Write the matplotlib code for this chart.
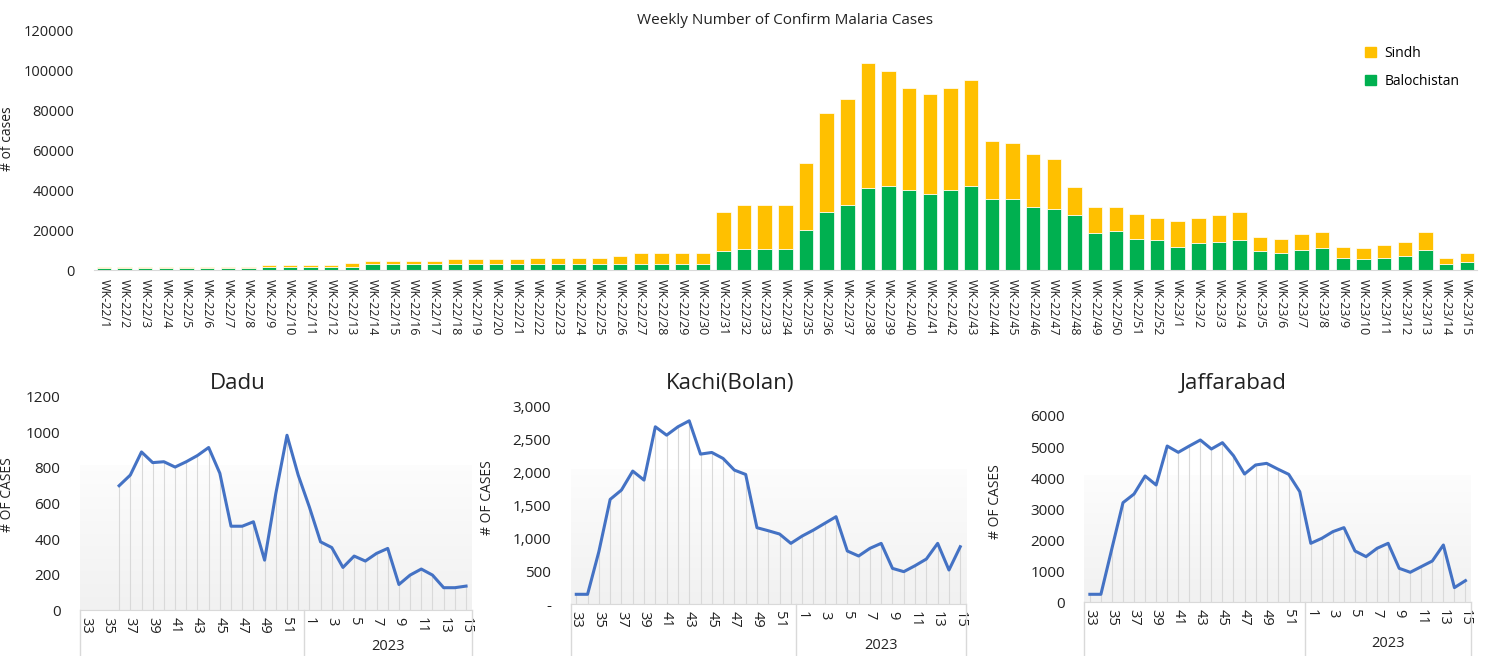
import numpy as np
import matplotlib
matplotlib.use("Agg")
import matplotlib.pyplot as plt
from matplotlib.ticker import FuncFormatter
from matplotlib.patches import Patch

plt.rcParams['font.family'] = ['Open Sans', 'DejaVu Sans']

# weekly confirmed cases, WK-22/1 .. WK-23/15
weeks = ['WK-22/%d' % w for w in range(1, 53)] + ['WK-23/%d' % w for w in range(1, 16)]
balochistan = [1000, 1000, 1000, 1000, 1000, 1000, 1000, 1000,
               1700, 1700, 1700, 1700, 1800, 3300, 3300, 3300, 3300,
               3200, 3200, 3200, 3200, 3200, 3200, 3200, 3200, 3200, 3200, 3200, 3200, 3200,
               9600, 10500, 10500, 10500, 20000, 29300, 32500, 41200, 42000, 40300,
               38000, 40300, 42000, 35700, 35500, 31700, 30800, 27700, 18800, 19800,
               15800, 15000, 11800, 13500, 14300, 15000, 9500, 8700, 10300, 11200,
               6300, 5500, 6300, 7200, 10300, 3200, 4000]
sindh = [800, 800, 800, 800, 800, 800, 800, 800,
         800, 800, 800, 800, 1700, 1400, 1400, 1400, 1400,
         2300, 2300, 2300, 2300, 3100, 3100, 3100, 3100, 4000, 5600, 5600, 5600, 5600,
         19700, 22000, 22000, 22000, 33700, 49700, 53500, 62800, 58000, 51200,
         50300, 51200, 53500, 29100, 28300, 26800, 25200, 14100, 12700, 11700,
         12500, 11000, 12700, 12500, 13400, 14200, 7200, 7100, 7900, 7800,
         5500, 5500, 6400, 7000, 8700, 3100, 4700]

# district series, epi week 33 (2022) .. 15 (2023)
district_weeks = list(range(33, 53)) + list(range(1, 16))
dadu = [np.nan, np.nan, np.nan, 700, 760, 890, 830, 835, 805, 835, 870, 915, 770,
        472, 472, 497, 281, 656, 984, 760, 580, 384, 352, 240, 304, 276, 319, 347,
        144, 197, 231, 197, 126, 126, 135]
kachi = [152, 152, 800, 1594, 1736, 2024, 1887, 2697, 2570, 2697, 2788, 2282, 2307,
         2216, 2039, 1973, 1164, 1118, 1068, 926, 1037, 1128, 1230, 1331, 810, 734,
         850, 926, 546, 496, 587, 688, 926, 521, 875]
jaffarabad = [257, 257, 1738, 3208, 3487, 4067, 3777, 5032, 4829, 5032, 5226, 4936, 5140,
              4721, 4131, 4421, 4474, 4292, 4120, 3562, 1899, 2060, 2275, 2404, 1652, 1470,
              1738, 1899, 1094, 966, 1148, 1330, 1845, 472, 697]

YELLOW = '#FFC000'
GREEN = '#00B050'
BLUE = '#4472C4'
GRID = '#D9D9D9'
TXT = '#222222'

fig = plt.figure(figsize=(14.86, 6.56), dpi=100)

# ---- top stacked bars ----
ax = fig.add_axes([0.063, 0.588, 0.931, 0.365])
x = np.arange(len(weeks))
ax.bar(x, balochistan, width=0.7, color=GREEN, edgecolor='white', linewidth=0.5, label='Balochistan')
ax.bar(x, sindh, width=0.7, bottom=balochistan, color=YELLOW, edgecolor='white', linewidth=0.5, label='Sindh')
ax.set_xlim(-0.5, len(weeks) - 0.5)
ax.set_ylim(0, 120000)
ax.set_yticks(range(0, 120001, 20000))
ax.set_xticks(x)
ax.set_xticklabels(weeks, rotation=-90, fontsize=9, color=TXT)
ax.tick_params(axis='y', labelsize=10.5, colors=TXT, length=0, pad=14)
ax.tick_params(axis='x', length=0, pad=6)
for s in ['top', 'right', 'left']:
    ax.spines[s].set_visible(False)
ax.spines['bottom'].set_color(GRID)
ax.set_title('Weekly Number of Confirm Malaria Cases', fontsize=11, color=TXT, pad=5)
ax.set_ylabel('# of cases', fontsize=10, color=TXT)
ax.yaxis.set_label_coords(-0.057, 0.55)
handles = [Patch(color=YELLOW), Patch(color=GREEN)]
ax.legend(handles, ['Sindh', 'Balochistan'], loc='upper left', bbox_to_anchor=(0.910, 0.99),
          frameon=False, fontsize=10, handlelength=0.8, handleheight=0.8,
          labelspacing=0.95, handletextpad=0.6)


# ---- bottom district line charts ----
def district(rect, values, title, title_xy, yticks, ymax, fmt, ylab_x, year_off):
    a = fig.add_axes(rect)
    xs = np.arange(len(district_weeks))
    # soft gradient behind the plot area
    grad = np.linspace(0.945, 0.99, 100).reshape(-1, 1, 1) * np.ones((1, 1, 3))
    a.imshow(grad, extent=[0, 1, 0, 0.68], transform=a.transAxes, origin='lower',
             aspect='auto', zorder=0)
    vals = np.array(values, dtype=float)
    ok = ~np.isnan(vals)
    a.vlines(xs[ok], 0, vals[ok], color=GRID, linewidth=0.8, zorder=1)
    a.plot(xs, vals, color=BLUE, linewidth=2.2, zorder=3)
    a.set_xlim(-0.5, len(xs) - 0.5)
    a.set_ylim(0, ymax)
    a.set_yticks(yticks)
    a.yaxis.set_major_formatter(FuncFormatter(fmt))
    tick_pos = [i for i, w in enumerate(district_weeks) if w % 2 == 1]
    a.set_xticks(tick_pos)
    a.set_xticklabels([str(district_weeks[i]) for i in tick_pos], rotation=-90,
                      fontsize=10.5, color=TXT)
    a.tick_params(axis='x', length=0, pad=5)
    a.tick_params(axis='y', length=0, labelsize=11, colors=TXT, pad=14)
    for s in ['top', 'right', 'left']:
        a.spines[s].set_visible(False)
    a.spines['bottom'].set_color(GRID)
    # year grouping lines below the axis
    split = district_weeks.index(1) - 0.5
    for xv in [-0.5, split, len(xs) - 0.5]:
        a.plot([xv, xv], [0, -0.5], color=GRID, linewidth=1.0, clip_on=False,
               transform=a.get_xaxis_transform())
    a.annotate('2023', xy=((split + len(xs) - 0.5) / 2, 0), xycoords=('data', 'axes fraction'),
               xytext=(0, year_off), textcoords='offset points', ha='center', va='center',
               fontsize=10.5, color=TXT)
    a.set_ylabel('# OF CASES', fontsize=10, color=TXT)
    a.yaxis.set_label_coords(ylab_x, 0.54)
    fig.text(title_xy[0], title_xy[1], title, fontsize=16, color=TXT,
             ha='center', va='center')
    return a


district([0.0538, 0.070, 0.2636, 0.325], dadu, 'Dadu', (0.160, 0.416),
         range(0, 1201, 200), 1200, lambda v, p: '%d' % v, -0.166, -26)
district([0.3840, 0.0788, 0.2660, 0.301], kachi, 'Kachi(Bolan)', (0.491, 0.416),
         range(0, 3001, 500), 3000, lambda v, p: '-' if v == 0 else '{:,.0f}'.format(v), -0.191, -30)
district([0.7297, 0.0819, 0.2602, 0.284], jaffarabad, 'Jaffarabad', (0.830, 0.416),
         range(0, 6001, 1000), 6000, lambda v, p: '%d' % v, -0.210, -30)

fig.savefig('out.png', dpi=100)
